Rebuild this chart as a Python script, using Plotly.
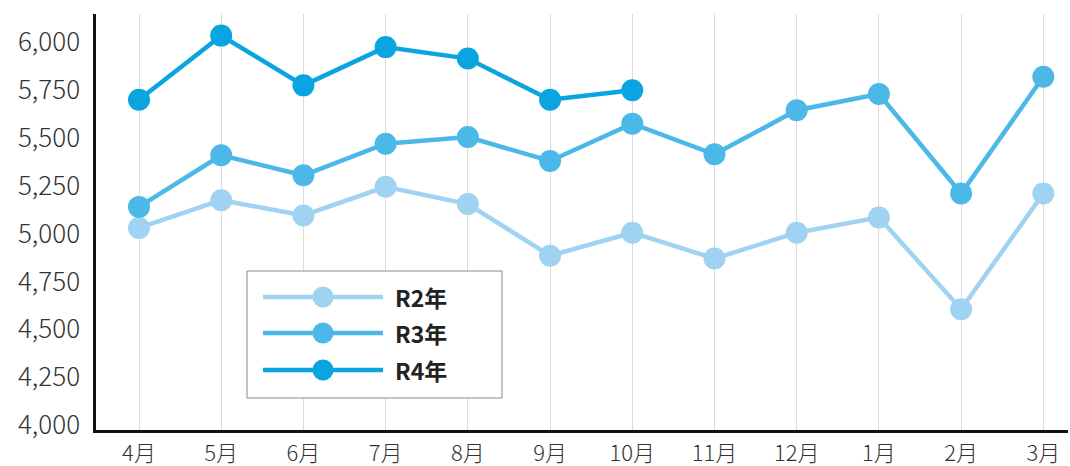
import plotly.graph_objects as go

months = ["4月", "5月", "6月", "7月", "8月", "9月", "10月", "11月", "12月", "1月", "2月", "3月"]
r2 = [5030, 5175, 5095, 5245, 5155, 4885, 5005, 4870, 5005, 5085, 4605, 5210]
r3 = [5140, 5410, 5305, 5470, 5505, 5380, 5575, 5415, 5645, 5730, 5210, 5820]
r4 = [5700, 6035, 5775, 5975, 5915, 5700, 5750]
series_names = ["R2年", "R3年", "R4年"]
colors = ["#9fd3f1", "#4cb8e8", "#0aa5e0"]
ytick_vals = [4000, 4250, 4500, 4750, 5000, 5250, 5500, 5750, 6000]

FONT = "Noto Sans CJK JP"
fig = go.Figure()
for name, vals, col in zip(series_names, [r2, r3, r4], colors):
    fig.add_trace(go.Scatter(
        x=list(range(len(vals))), y=vals, name=name, mode="lines+markers",
        line=dict(color=col, width=4.5), marker=dict(color=col, size=22),
        showlegend=False, cliponaxis=False))

# plot area geometry (pixels) for the hand-drawn legend box
L, R, T, B = 96, 1068, 14, 430
W, H = R - L, B - T
def px(x):
    return (x - L) / W
def py(y):
    return (B - y) / H

shapes = [dict(type="rect", xref="paper", yref="paper", x0=px(247), x1=px(502),
               y0=py(398), y1=py(271), line=dict(color="#8a8a8a", width=1),
               fillcolor="white", layer="above")]
annotations = []
rows = [297, 333, 370]
for name, col, ry in zip(series_names, colors, rows):
    shapes.append(dict(type="line", xref="paper", yref="paper", x0=px(263), x1=px(383),
                       y0=py(ry), y1=py(ry), line=dict(color=col, width=4.5), layer="above"))
    shapes.append(dict(type="circle", xref="paper", yref="paper",
                       xsizemode="pixel", ysizemode="pixel",
                       xanchor=px(323), yanchor=py(ry), x0=-10.5, x1=10.5, y0=-10.5, y1=10.5,
                       fillcolor=col, line=dict(color=col, width=0), layer="above"))
    annotations.append(dict(xref="paper", yref="paper", x=px(393), y=py(ry), xanchor="left",
                            yanchor="middle", showarrow=False, text="<b>" + name + "</b>",
                            font=dict(family=FONT, size=23, color="#222")))

fig.update_layout(
    width=1070, height=466,
    margin=dict(l=L, r=1070 - R, t=T, b=466 - B),
    plot_bgcolor="white", paper_bgcolor="white",
    font=dict(family=FONT, color="#333"),
    shapes=shapes, annotations=annotations,
    xaxis=dict(range=[-0.523, 11.30], tickvals=list(range(12)), ticktext=months,
               showgrid=True, gridcolor="#dcdcdc", gridwidth=1,
               showline=True, linecolor="#111", linewidth=2.5, automargin=False,
               ticks="", tickfont=dict(size=22, color="#333", weight=300), zeroline=False,
               ticklabelstandoff=2),
    yaxis=dict(range=[3974, 6148], tickvals=ytick_vals, tickformat=",",
               showgrid=False, showline=True, linecolor="#111", linewidth=2.5, automargin=False,
               ticks="", tickfont=dict(size=26, color="#333", weight=300), zeroline=False,
               ticklabelstandoff=8),
)
fig.write_html("out.html", config={"displayModeBar": False},
               post_script="document.body.style.margin='0';")
